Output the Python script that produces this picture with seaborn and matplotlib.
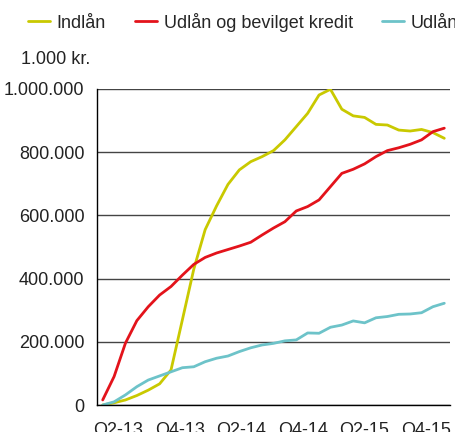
import matplotlib
matplotlib.use("Agg")
import matplotlib.pyplot as plt
import numpy as np
import pandas as pd
import seaborn as sns

# monthly observations, values in 1.000 kr.
indlaan = [0, 7, 16, 30, 47, 67, 111, 270, 430, 555, 630, 698, 744, 770, 786, 805,
           839, 881, 923, 981, 999, 936, 915, 910, 888, 886, 870, 867, 872, 862, 844]
udlaan_kredit = [16, 90, 196, 267, 311, 348, 375, 411, 445, 467, 481, 492, 503, 515, 538, 560,
                 580, 614, 628, 649, 691, 733, 746, 763, 786, 805, 814, 825, 839, 865, 876]
udlaan = [0, 10, 32, 58, 79, 92, 105, 118, 121, 137, 148, 155, 169, 181, 190, 195,
          203, 206, 228, 227, 246, 253, 266, 260, 276, 280, 287, 288, 292, 311, 322]
series_names = ['Indlån', 'Udlån og bevilget kredit', 'Udlån']
colors = ['#c9c900', '#e3131b', '#6dc3c9']
quarter_labels = ['Q2-13', 'Q4-13', 'Q2-14', 'Q4-14', 'Q2-15', 'Q4-15']

sns.set_theme(style='white')
plt.rcParams['font.family'] = ['Liberation Sans', 'DejaVu Sans']

n = len(indlaan)
df = pd.DataFrame({
    'idx': list(range(n)) * 3,
    'value': [v * 1000 for v in indlaan + udlaan_kredit + udlaan],
    'serie': [s for s in series_names for _ in range(n)],
})

fig = plt.figure(figsize=(4.55, 4.32), dpi=100)
ax = fig.add_axes([0.2132, 0.0625, 0.7758, 0.7315])
sns.lineplot(data=df, x='idx', y='value', hue='serie', palette=colors,
             hue_order=series_names, linewidth=2, ax=ax)

ax.set_xlim(-0.5, n - 0.5)
ax.set_ylim(0, 1000000)
ax.set_yticks(range(0, 1000001, 200000))
ax.set_yticklabels([f'{v:,}'.replace(',', '.') for v in range(0, 1000001, 200000)], fontsize=13)
ax.set_xticks(np.linspace(1.35, 28.4, len(quarter_labels)))
ax.set_xticklabels(quarter_labels, fontsize=13)
ax.tick_params(axis='both', length=0, colors='#222222')
ax.tick_params(axis='y', pad=9)
ax.tick_params(axis='x', pad=12)
ax.set_xlabel('')
ax.set_ylabel('')
ax.grid(axis='y', color='#444444', linewidth=1)
ax.grid(axis='x', visible=False)
for side in ['top', 'right']:
    ax.spines[side].set_visible(False)
for side in ['left', 'bottom']:
    ax.spines[side].set_color('black')
    ax.spines[side].set_linewidth(1)

fig.text(0.198, 0.862, '1.000 kr.', fontsize=13, ha='right', va='center', color='#222222')

handles, labels = ax.get_legend_handles_labels()
ax.get_legend().remove()
fig.legend(handles, labels, loc='center left', bbox_to_anchor=(0.0615, 0.949), ncol=3,
           frameon=False, fontsize=13, handlelength=1.2, handletextpad=0.4, columnspacing=1.6,
           borderpad=0, borderaxespad=0)

plt.savefig('out.png', dpi=100)
